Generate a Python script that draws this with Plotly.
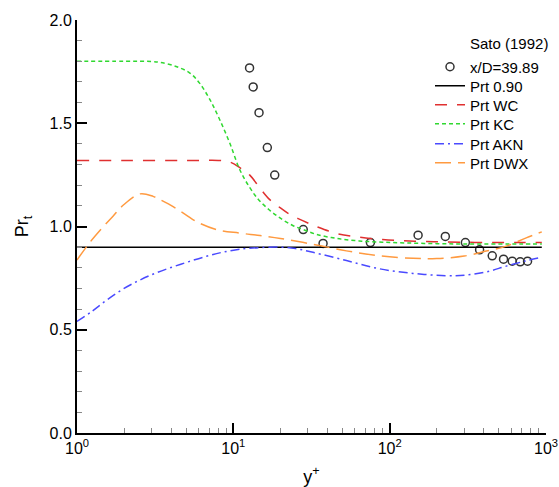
import plotly.graph_objects as go

# Experimental data: Sato (1992), x/D = 39.89
x_sato = [12.7, 13.4, 14.6, 16.5, 18.4, 28.0, 37.5, 75.3, 152, 227, 305, 376, 453, 535, 608, 684, 762]
y_sato = [1.768, 1.676, 1.551, 1.382, 1.249, 0.985, 0.918, 0.922, 0.958, 0.952, 0.922, 0.887, 0.858, 0.842, 0.832, 0.829, 0.832]

# Constant Prt
x_c = [1, 940]
y_c = [0.9, 0.9]

# Prt WC
x_wc = [1, 2, 4, 6, 8, 9.5, 11, 12.7, 15, 17.1, 20, 23, 28, 34, 46.5, 64, 90, 121, 170, 231, 350, 500, 700, 940]
y_wc = [1.32, 1.32, 1.32, 1.32, 1.32, 1.312, 1.285, 1.25, 1.18, 1.13, 1.09, 1.058, 1.027, 1.0, 0.965, 0.948, 0.937, 0.931, 0.927, 0.925, 0.923, 0.923, 0.923, 0.923]

# Prt KC
x_kc = [1, 2, 3, 3.4, 4.3, 5.3, 6.1, 7.1, 8.2, 9.5, 11, 12.7, 14.5, 17, 20, 24, 28, 34, 46, 64, 90, 130, 200, 300, 500, 700, 940]
y_kc = [1.8, 1.8, 1.799, 1.795, 1.775, 1.742, 1.693, 1.613, 1.516, 1.403, 1.275, 1.19, 1.13, 1.08, 1.04, 1.005, 0.985, 0.962, 0.942, 0.93, 0.924, 0.92, 0.917, 0.915, 0.915, 0.915, 0.915]

# Prt AKN
x_akn = [1, 1.25, 1.55, 2, 2.53, 3.2, 4.12, 5.2, 6.74, 8.5, 11, 14.8, 20, 25, 32.3, 52.9, 86.3, 141, 230, 309, 415, 557, 747, 940]
y_akn = [0.54, 0.59, 0.644, 0.70, 0.741, 0.775, 0.805, 0.83, 0.856, 0.875, 0.89, 0.898, 0.9, 0.893, 0.875, 0.835, 0.795, 0.773, 0.762, 0.765, 0.78, 0.808, 0.834, 0.852]

# Prt DWX
x_dwx = [1, 1.2, 1.41, 1.7, 1.98, 2.53, 3.07, 3.5, 4.12, 5, 5.82, 7.81, 11, 14.8, 20, 32.3, 52.9, 86.3, 141, 200, 300, 415, 557, 747, 940]
y_dwx = [0.838, 0.92, 0.983, 1.05, 1.104, 1.158, 1.146, 1.125, 1.096, 1.055, 1.023, 0.985, 0.968, 0.956, 0.942, 0.914, 0.882, 0.858, 0.846, 0.845, 0.857, 0.881, 0.905, 0.945, 0.974]

x_tickvals = [1, 10, 100, 1000]
x_ticktext = ["10<sup>0</sup>", "10<sup>1</sup>", "10<sup>2</sup>", "10<sup>3</sup>"]
x_minor = [m * d for d in (1, 10, 100) for m in range(2, 10)]

FONT = "Liberation Sans, Arial, sans-serif"

W, H = 559, 487
ML, MR, MT, MB = 77, 13, 20, 54
PH = H - MT - MB
PW = W - ML - MR

fig = go.Figure()
fig.add_trace(go.Scatter(x=x_sato, y=y_sato, mode="markers", name="x/D=39.89", legend="legend",
                         marker=dict(symbol="circle-open", size=8, color="#333333",
                                     line=dict(width=1.5, color="#333333"))))
fig.add_trace(go.Scatter(x=x_c, y=y_c, mode="lines", name="Prt 0.90", legend="legend2",
                         line=dict(color="black", width=1.5)))
fig.add_trace(go.Scatter(x=x_wc, y=y_wc, mode="lines", name="Prt WC", line_shape="spline", legend="legend3",
                         line=dict(color="#e03030", width=1.5, dash="12px,10px")))
fig.add_trace(go.Scatter(x=x_kc, y=y_kc, mode="lines", name="Prt KC", line_shape="spline", legend="legend4",
                         line=dict(color="#30d830", width=1.5, dash="4px,3px")))
fig.add_trace(go.Scatter(x=x_akn, y=y_akn, mode="lines", name="Prt AKN", line_shape="spline", legend="legend5",
                         line=dict(color="#4a4aff", width=1.5, dash="9px,4px,2px,4px")))
fig.add_trace(go.Scatter(x=x_dwx, y=y_dwx, mode="lines", name="Prt DWX", line_shape="spline", legend="legend6",
                         line=dict(color="#ff9a40", width=1.5, dash="16px,7px")))

# legend row centres (pixels from top)
row_px = [67, 86, 105, 124, 144, 163]
text_left_px = 470
legend_layout = {}
for i, py in enumerate(row_px):
    key = "legend" if i == 0 else f"legend{i + 1}"
    legend_layout[key] = dict(
        x=(text_left_px - 40 - ML) / PW, y=(H - MB - py) / PH,
        xanchor="left", yanchor="middle", bgcolor="rgba(0,0,0,0)",
        font=dict(size=15, family=FONT), itemwidth=30, borderwidth=0)

fig.update_layout(
    width=W, height=H,
    margin=dict(l=ML, r=MR, t=MT, b=MB),
    paper_bgcolor="white", plot_bgcolor="white",
    font=dict(family=FONT, size=16, color="black"),
    showlegend=True,
    annotations=[dict(text="Sato (1992)", x=(468 - ML) / PW, y=(H - MB - 43) / PH,
                      xref="paper", yref="paper", xanchor="left", yanchor="middle",
                      showarrow=False, font=dict(size=15))],
    xaxis=dict(type="log", range=[0, 3], showline=True, linecolor="black", linewidth=2,
               ticks="inside", ticklen=10, tickwidth=2, tickcolor="black",
               tickmode="array", tickvals=x_tickvals, ticktext=x_ticktext,
               minor=dict(tickmode="array", tickvals=x_minor, ticks="inside", ticklen=5,
                          tickwidth=1, tickcolor="#888888", showgrid=False),
               showgrid=False, zeroline=False, mirror=False, automargin=False,
               title=dict(text="y<sup>+</sup>", font=dict(size=18), standoff=20)),
    yaxis=dict(range=[0, 2], showline=True, linecolor="black", linewidth=2,
               ticks="inside", ticklen=10, tickwidth=2, tickcolor="black",
               tickmode="linear", tick0=0, dtick=0.5, tickformat=".1f",
               minor=dict(dtick=0.1, ticks="inside", ticklen=5, tickwidth=1,
                          tickcolor="#888888", showgrid=False),
               showgrid=False, zeroline=False, mirror=False, automargin=False,
               title=dict(text="Pr<sub>t</sub>", font=dict(size=18), standoff=16)),
    **legend_layout,
)

fig.write_html("out.html")
